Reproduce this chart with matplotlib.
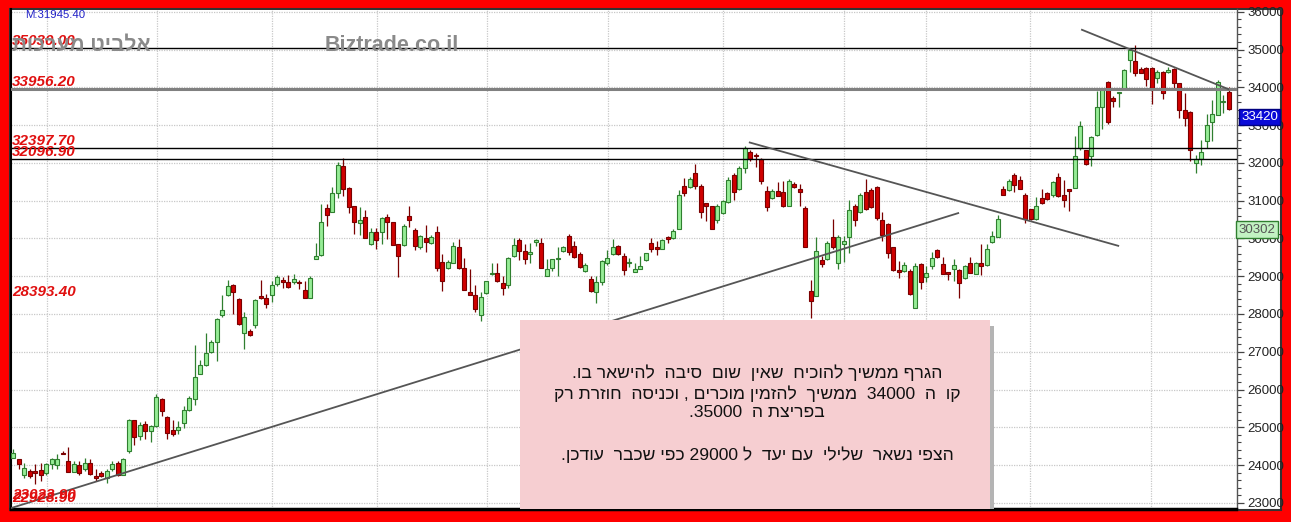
#--------------------------------------
# TA-35 candlestick chart with support/resistance lines (Biztrade style)
#--------------------------------------

import re
import numpy as np
import matplotlib.pyplot as plt
from matplotlib.patches import Rectangle
from matplotlib.ticker import MultipleLocator, NullFormatter

plt.rcParams['font.family'] = ['Liberation Sans', 'DejaVu Sans']

# Daily candles, index 0 = first day on the left
opens = [24200, 24150, 23750, 23840, 23830, 23870, 23780, 24020, 24000, 24300,
         24100, 23820, 24000, 23890, 24060, 23710, 23800, 23660, 23890, 24060,
         23750, 24360, 25190, 24780, 25100, 24890, 25040, 25750, 25270, 24940,
         24920, 25110, 25450, 25750, 26420, 26650, 26990, 27260, 27960, 28500,
         28760, 28390, 27490, 27550, 27700, 28480, 28420, 28500, 28790, 28900,
         28850, 28850, 28850, 28630, 28410, 29450, 29550, 30800, 30710, 31190,
         31930, 31330, 30850, 30400, 30560, 29860, 30180, 30180, 30560, 30430,
         29860, 29820, 30600, 30210, 29770, 30010, 29890, 30180, 29380, 29210,
         29360, 29780, 29220, 28580, 28490, 27970, 28550, 29050, 29080, 28810,
         28770, 29540, 29970, 29660, 29600, 29900, 29890, 29010, 29220, 29450,
         29660, 30060, 29800, 29600, 29140, 28930, 28580, 28840, 29360, 29600,
         29800, 29540, 29340, 29110, 29200, 29430, 29870, 29780, 29730, 30050,
         30020, 30260, 31380, 31370, 31720, 31400, 30930, 30860, 30500, 30660,
         30960, 31670, 31300, 31870, 32280, 32190, 32100, 31250, 31080, 31250,
         31230, 30870, 31450, 31310, 30810, 28600, 28480, 29430, 29450, 30050,
         29360, 29850, 30050, 30870, 30700, 31230, 31280, 31370, 30500, 30370,
         29760, 29170, 29140, 29140, 28170, 29310, 28990, 29270, 29690, 29320,
         29100, 29200, 29170, 28940, 29360, 29050, 29360, 29290, 29900, 30050,
         31310, 31280, 31670, 31540, 31160, 30770, 30520, 31080, 31190, 31140,
         31630, 31140, 31300, 31340, 32390, 32330, 32180, 32740, 33490, 34140,
         33730, 33840, 33950, 34720, 34690, 34490, 34520, 34520, 34250, 34400,
         34400, 34490, 34110, 33400, 33350, 32000, 32110, 32590, 33090, 33260,
         33600, 33880]
highs = [24430, 24150, 24060, 23890, 24020, 24060, 24060, 24200, 24280, 24370,
         24490, 24100, 24100, 24200, 24170, 23890, 23840, 23900, 24110, 24110,
         24200, 25210, 25200, 25130, 25160, 25070, 25890, 25780, 25290, 25190,
         25160, 25560, 25840, 27170, 26780, 27490, 27310, 27900, 28500, 28900,
         28790, 28410, 28050, 27610, 28390, 28900, 28520, 28880, 29030, 28990,
         29030, 29050, 28900, 28880, 29010, 29880, 30910, 30910, 31360, 32030,
         32130, 31360, 30870, 30820, 30760, 30270, 30270, 30560, 30650, 30430,
         29860, 30380, 30850, 30270, 30100, 30360, 30080, 30320, 29600, 29420,
         29910, 29990, 29470, 29180, 28770, 28580, 28880, 29360, 29340, 29010,
         29510, 30010, 30010, 29860, 29890, 29980, 30010, 29450, 29450, 29770,
         29800, 30120, 29920, 29640, 29340, 29010, 29010, 29420, 29690, 29990,
         29830, 29620, 29490, 29340, 29540, 29620, 30020, 29930, 29990, 30060,
         30260, 31280, 31600, 31630, 31980, 31430, 30940, 30870, 30900, 31030,
         31630, 31740, 31910, 32440, 32330, 32260, 32130, 31400, 31300, 31490,
         31520, 31560, 31490, 31430, 30870, 28900, 30050, 29540, 29930, 30520,
         30080, 30060, 31010, 30900, 31190, 31560, 31340, 31380, 30700, 30400,
         29780, 29400, 29380, 29200, 29360, 29340, 29270, 29640, 29730, 29520,
         29100, 29450, 29200, 29300, 29520, 29380, 29840, 29840, 30200, 30610,
         31380, 31580, 31740, 31650, 31190, 30790, 31100, 31300, 31220, 31520,
         31720, 31540, 31310, 32720, 33110, 32350, 32720, 33900, 33970, 34170,
         33770, 33860, 34490, 35040, 35130, 34540, 34540, 34540, 34460, 34430,
         34540, 34520, 34120, 33860, 33380, 32210, 32610, 33290, 33670, 34190,
         33790, 34020]
lows = [24180, 23890, 23660, 23660, 23490, 23570, 23750, 23890, 23890, 24280,
        23820, 23820, 23750, 23840, 23750, 23580, 23690, 23530, 23840, 23700,
        23750, 24320, 24540, 24670, 24690, 24620, 25020, 25290, 24690, 24780,
        24830, 24980, 25420, 25600, 26400, 26620, 26970, 26750, 27930, 28480,
        27990, 27720, 27060, 27410, 27640, 28390, 28170, 28320, 28740, 28700,
        28700, 28790, 28670, 28410, 28410, 29450, 29530, 30320, 30690, 31080,
        31110, 30670, 30120, 30080, 30010, 29830, 29710, 29860, 29990, 29820,
        28990, 29800, 30300, 29690, 29730, 29630, 29860, 29140, 28610, 29190,
        29340, 29190, 28640, 28490, 28050, 27810, 28530, 29040, 28840, 28510,
        28700, 29510, 29430, 29310, 29340, 29800, 29210, 29010, 29130, 29010,
        29640, 29570, 29490, 29220, 29120, 28590, 28290, 28770, 29290, 29570,
        29570, 29030, 29250, 29100, 29200, 29400, 29640, 29550, 29710, 29890,
        29990, 30240, 31120, 31340, 31300, 30550, 30460, 30240, 30420, 30640,
        30940, 31010, 31280, 31740, 32040, 31890, 31430, 30720, 31050, 31120,
        30840, 30860, 31340, 30870, 29780, 27890, 28480, 29250, 29430, 29730,
        29200, 29380, 29620, 30330, 30680, 30750, 30810, 30500, 29930, 29490,
        29140, 28960, 29110, 28500, 28150, 28660, 28850, 29200, 29490, 29050,
        28900, 28880, 28410, 28920, 29080, 29050, 29030, 29270, 29890, 30050,
        31140, 31250, 31230, 31300, 30400, 30500, 30500, 30920, 31030, 31100,
        31100, 30840, 30720, 31340, 32330, 31940, 31910, 32720, 32900, 33040,
        33490, 33470, 33930, 34400, 34300, 34370, 34040, 33550, 34110, 33700,
        34370, 33990, 33180, 32980, 32060, 31740, 31950, 32390, 32590, 33260,
        33330, 33400]
closes = [24330, 24020, 23930, 23710, 23800, 23750, 24020, 24150, 24150, 24290,
          23820, 24020, 23800, 24060, 23770, 23660, 23710, 23840, 24040, 23750,
          24150, 25200, 24740, 25070, 24890, 25040, 25800, 25420, 24850, 24810,
          25010, 25470, 25780, 26330, 26660, 26960, 27260, 27860, 28100, 28740,
          28580, 27740, 27930, 27430, 28370, 28410, 28260, 28760, 28990, 28850,
          28720, 28920, 28810, 28410, 28960, 29540, 30440, 30620, 31200, 31940,
          31320, 30820, 30430, 30500, 30010, 30180, 29970, 30530, 30430, 29830,
          29540, 30340, 30500, 29800, 30060, 29900, 30040, 29220, 28870, 29380,
          29800, 29210, 28640, 28510, 28140, 28460, 28860, 29070, 28860, 28700,
          29470, 29830, 29660, 29450, 29640, 29970, 29220, 29180, 29450, 29490,
          29770, 29640, 29510, 29250, 29290, 28610, 28840, 29410, 29470, 29770,
          29600, 29170, 29360, 29200, 29270, 29610, 29710, 29730, 29960, 29980,
          30200, 31140, 31190, 31560, 31400, 30700, 30870, 30260, 30870, 30990,
          31540, 31230, 31870, 32400, 32100, 32170, 31520, 30840, 31250, 31120,
          30860, 31520, 31370, 31230, 29780, 28330, 29670, 29320, 29870, 29760,
          30050, 29930, 30750, 30490, 31160, 30770, 30840, 30550, 30080, 29620,
          29170, 29110, 29290, 28520, 29270, 28850, 29080, 29470, 29520, 29050,
          29070, 29290, 28830, 29270, 29080, 29360, 29270, 29710, 30060, 30520,
          31160, 31520, 31420, 31300, 30520, 30520, 30870, 30940, 31050, 31490,
          31120, 31010, 31250, 32180, 32970, 31970, 32680, 33470, 33950, 33070,
          33640, 33860, 34470, 34980, 34370, 34390, 34230, 33970, 34400, 33860,
          34470, 34110, 33400, 33200, 32350, 32110, 32300, 33000, 33290, 34140,
          33640, 33420]

# Horizontal support / resistance levels and their labels
levels = [35030.00, 33956.20, 32397.70, 32096.90]
level_colors = ['black', '#808080', 'black', 'black']
level_widths = [1.0, 2.2, 1.0, 1.0]
label_values = [35030.00, 33956.20, 32397.70, 32096.90, 28393.40, 23023.90, 22928.90]

# Trend lines (candle index, price)
trend_up_x = [-0.3, 171.8]
trend_up_y = [22866, 30670]
trend_down_x = [133.9, 200.9]
trend_down_y = [32539, 29804]
trend_top_x = [194.3, 220.9]
trend_top_y = [35523, 33953]

# Month separators (vertical grid)
month_lines = [6.1, 26.1, 47.0, 66.1, 86.1, 108.1, 129.0, 151.0, 166.0, 184.9, 206.9]

comment_lines = [
    "הגרף ממשיך להוכיח  שאין  שום  סיבה  להישאר בו.",
    "קו  ה  34000  ממשיך  להזמין מוכרים , וכניסה  חוזרת רק",
    "בפריצת ה  35000.",
    "",
    "הצפי נשאר  שלילי  עם יעד  ל 29000 כפי שכבר  עודכן.",
]


def visual(s):
    # matplotlib has no bidi: reverse the Hebrew, keep numbers readable
    return re.sub(r'\d+', lambda m: m.group(0)[::-1], s[::-1])


W, H = 1291, 522
fig = plt.figure(figsize=(W / 100, H / 100), dpi=100, facecolor='#ff0000')

# white chart panel inside the red frame
fig.patches.append(Rectangle((10 / W, 1 - 510 / H), 1271 / W, 501 / H,
                             transform=fig.transFigure, facecolor='white',
                             edgecolor='#333333', lw=1.5, zorder=-1))

ax = fig.add_axes([11 / W, 1 - 508.5 / H, 1225.5 / W, 499 / H])
ax.set_facecolor('white')

o = np.array(opens)
h = np.array(highs)
l = np.array(lows)
c = np.array(closes)
x = np.arange(len(c))
up = c >= o
body_bottom = np.minimum(o, c)
body_height = np.maximum(np.abs(c - o), 30)

# grid
ax.set_yticks(range(23000, 36001, 1000))
ax.yaxis.set_minor_locator(MultipleLocator(200))
ax.set_xticks(month_lines)
ax.xaxis.set_major_formatter(NullFormatter())
ax.grid(True, color='#c8c8c8', lw=0.9, ls=(0, (1, 1)), zorder=0)

# candles
ax.vlines(x[up], l[up], h[up], color='#2f7f2f', lw=0.9, zorder=3)
ax.vlines(x[~up], l[~up], h[~up], color='#7a0000', lw=0.9, zorder=3)
ax.bar(x[up], body_height[up], bottom=body_bottom[up], width=0.72,
       color='#96ec96', edgecolor='#2f7f2f', lw=0.8, zorder=4)
ax.bar(x[~up], body_height[~up], bottom=body_bottom[~up], width=0.72,
       color='#d00000', edgecolor='#7a0000', lw=0.8, zorder=4)

# horizontal levels
for lev, col, lw in zip(levels, level_colors, level_widths):
    ax.axhline(lev, color=col, lw=lw, zorder=5)

# trend lines
ax.plot(trend_up_x, trend_up_y, color='#555555', lw=1.3, zorder=5)
ax.plot(trend_down_x, trend_down_y, color='#555555', lw=1.3, zorder=5)
ax.plot(trend_top_x, trend_top_y, color='#555555', lw=1.3, zorder=5)

# watermarks
fig.text(12 / W, 1 - 45 / H, visual("אלביט מערכות"), color='#8a8a8a',
         fontsize=15, fontweight='bold', va='center', ha='left', zorder=6)
fig.text(325 / W, 1 - 45 / H, "Biztrade.co.il", color='#8a8a8a',
         fontsize=15.5, fontweight='bold', va='center', ha='left', zorder=6)
fig.text(25 / W, 1 - 14.5 / H, "M:31945.40", color='#2020c8', fontsize=8.2,
         va='center', ha='left', zorder=6)

# level labels
for val in label_values:
    ax.annotate(f"{val:.2f}", xy=(0.001, val), xycoords=('axes fraction', 'data'),
                xytext=(0, 2.3), textcoords='offset points', color='#e01010',
                fontsize=11, fontweight='bold', fontstyle='italic',
                va='baseline', ha='left', zorder=7)

# comment box with soft shadow
ax.add_patch(Rectangle((524 / W, 0), 470 / W, 1 - 326 / H, transform=fig.transFigure,
                       facecolor='#b4b4b4', edgecolor='none', zorder=8))
ax.add_patch(Rectangle((520 / W, 0), 470 / W, 1 - 320 / H, transform=fig.transFigure,
                       facecolor='#f6ced1', edgecolor='none', zorder=9))
line_y = [373, 393.5, 412.5, 433, 455]
for txt, yy in zip(comment_lines, line_y):
    if txt:
        fig.text(757 / W, 1 - yy / H, visual(txt), fontsize=12.6, color='#111111',
                 ha='center', va='center', zorder=10)

# right price axis
ax.set_xlim(-0.42, 222.4)
ax.set_ylim(22850, 36060)
ax.yaxis.tick_right()
ax.tick_params(axis='y', which='major', length=5, width=0.9, color='#444444',
               labelsize=9.5, labelcolor='#222222', pad=3)
ax.tick_params(axis='y', which='minor', length=3, width=0.8, color='#444444')
ax.tick_params(axis='x', length=0)
ax.spines['top'].set_visible(False)
ax.spines['left'].set_color('black')
ax.spines['left'].set_linewidth(1.5)
ax.spines['bottom'].set_color('black')
ax.spines['bottom'].set_linewidth(2.5)
ax.spines['right'].set_color('#555555')
ax.spines['right'].set_linewidth(1.0)

# last price and indicator tags
ax.annotate(f"{closes[-1]}", xy=(1, closes[-1]), xycoords=('axes fraction', 'data'),
            xytext=(3.5, -5.5), textcoords='offset points', color='white',
            fontsize=9.5, va='center', ha='left', annotation_clip=False,
            bbox=dict(boxstyle='square,pad=0.15', facecolor='#0a0ad8', edgecolor='#000080'))
ax.annotate("30302", xy=(1, 30302), xycoords=('axes fraction', 'data'),
            xytext=(1.5, -2), textcoords='offset points', color='#555555',
            fontsize=9.5, va='center', ha='left', annotation_clip=False,
            bbox=dict(boxstyle='square,pad=0.2', facecolor='#c2f2c2', edgecolor='#2f7f2f'))

plt.savefig("out.png", dpi=100, facecolor=fig.get_facecolor())
